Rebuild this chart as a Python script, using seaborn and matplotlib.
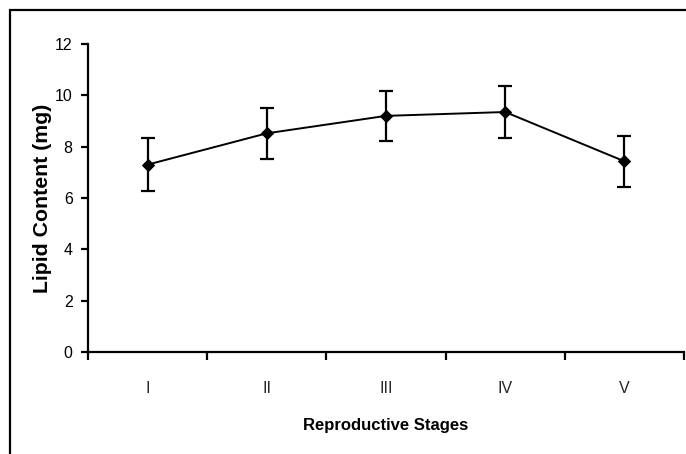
import numpy as np
import pandas as pd
import matplotlib
matplotlib.use("Agg")
import matplotlib.pyplot as plt
import seaborn as sns
from matplotlib.patches import Rectangle

stages = ["I", "II", "III", "IV", "V"]
lipid = [7.3, 8.52, 9.2, 9.35, 7.43]
lipid_err = [1.02, 1.0, 0.97, 1.0, 1.0]

sns.set_style("white")
plt.rcParams["font.family"] = ["Liberation Sans", "DejaVu Sans"]

df = pd.DataFrame({"pos": np.arange(len(stages)), "lipid": lipid, "err": lipid_err})

fig = plt.figure(figsize=(6.86, 4.54), dpi=100)
ax = fig.add_axes([88 / 686, 1 - 352 / 454, (684 - 88) / 686, (352 - 44) / 454])

ax.errorbar(df["pos"], df["lipid"], yerr=df["err"], fmt="none", ecolor="black",
            elinewidth=1.6, capsize=5, capthick=1.6, zorder=2)
sns.lineplot(data=df, x="pos", y="lipid", color="black", marker="D", markersize=6,
             markeredgecolor="black", linewidth=1.4, ax=ax, zorder=3)

ax.set_xlim(-0.5, len(stages) - 0.5)
ax.set_ylim(0, 12)
ax.set_yticks(range(0, 13, 2))
ax.set_xticks(np.arange(-0.5, len(stages), 1.0))
ax.set_xticklabels([])
ax.set_xticks(np.arange(len(stages)), minor=True)
ax.set_xticklabels(stages, minor=True, fontsize=11.5)
ax.tick_params(axis="x", which="major", direction="out", length=6, width=1.6, color="black")
ax.tick_params(axis="x", which="minor", length=0, pad=21)
ax.tick_params(axis="y", direction="out", length=5, width=1.6, color="black",
               labelsize=11.5, pad=6)
ax.tick_params(left=True, bottom=True)
ax.tick_params(labelcolor="black")

for side in ["top", "right"]:
    ax.spines[side].set_visible(False)
for side in ["left", "bottom"]:
    ax.spines[side].set_linewidth(1.6)
    ax.spines[side].set_color("black")

ax.set_xlabel("Reproductive Stages", fontsize=12, fontweight="bold", labelpad=16, color="black")
ax.set_ylabel("Lipid Content (mg)", fontsize=15.3, fontweight="bold", labelpad=2, color="black")

fig.patches.append(Rectangle((10 / 686, -0.1), 1.2, 1.1 - 10 / 454, transform=fig.transFigure,
                             fill=False, edgecolor="black", linewidth=1.6, clip_on=False))

fig.savefig("out.png", dpi=100)
